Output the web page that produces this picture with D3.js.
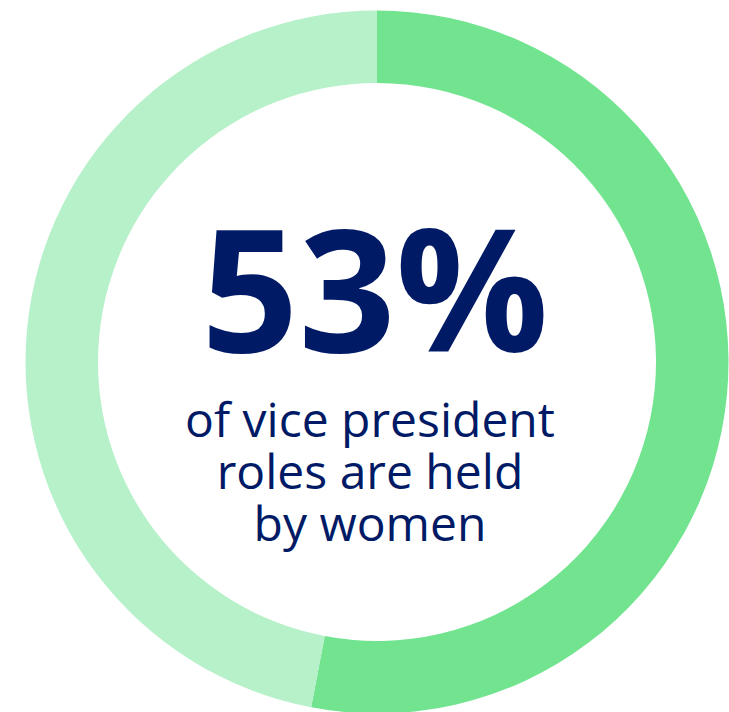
<!DOCTYPE html>
<html>
<head>
<meta charset="utf-8">
<script src="https://cdn.jsdelivr.net/npm/d3@7"></script>
<style>
  html, body { margin: 0; padding: 0; background: #fff; }
</style>
</head>
<body>
<div id="chart"></div>
<script>
// share of vice president roles
const categories = ["Women", "Men"];
const values = [53, 47];
const headline = "53%";
const caption = ["of vice president", "roles are held", "by women"];

const width = 729;
const height = 712;
const cx = 377, cy = 362;
const outerR = 351.5, innerR = 279;

const color = d3.scaleOrdinal()
  .domain(categories)
  .range(["#72E490", "#B7F1CA"]);

const svg = d3.select("#chart")
  .append("svg")
  .attr("width", width)
  .attr("height", height);

const g = svg.append("g")
  .attr("transform", `translate(${cx},${cy})`);

const pie = d3.pie()
  .sort(null)
  .value(d => d.value);

const arc = d3.arc()
  .innerRadius(innerR)
  .outerRadius(outerR);

const data = categories.map((c, i) => ({ name: c, value: values[i] }));

g.selectAll("path")
  .data(pie(data))
  .enter()
  .append("path")
  .attr("d", arc)
  .attr("fill", d => color(d.data.name));

// big number
svg.append("text")
  .attr("x", 375)
  .attr("y", 352)
  .attr("text-anchor", "middle")
  .attr("font-family", "'Open Sans', Lato, sans-serif")
  .attr("font-weight", 700)
  .attr("font-size", 170)
  .attr("fill", "#001A66")
  .text(headline);

// caption lines
svg.append("g")
  .selectAll("text")
  .data(caption)
  .enter()
  .append("text")
  .attr("x", 370)
  .attr("y", (d, i) => 437 + i * 52)
  .attr("text-anchor", "middle")
  .attr("font-family", "'Open Sans', Lato, sans-serif")
  .attr("font-size", 48)
  .attr("fill", "#001A66")
  .text(d => d);
</script>
</body>
</html>
